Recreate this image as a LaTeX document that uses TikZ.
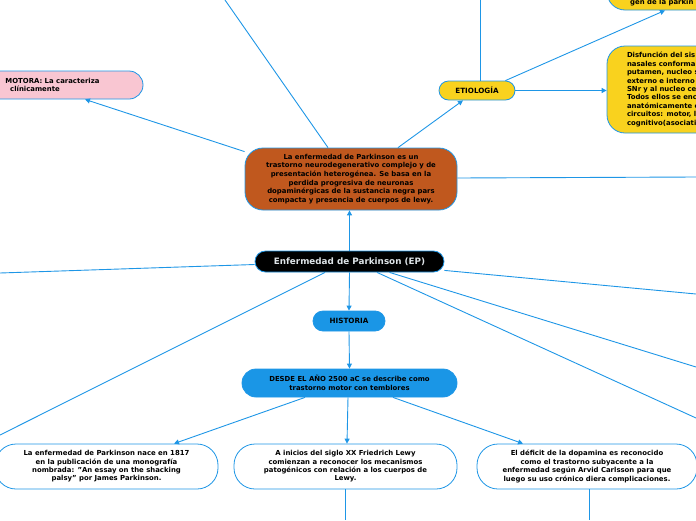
\documentclass[tikz,border=0pt]{standalone}
\usepackage{fontspec}
\setmainfont{DejaVu Sans}
\usetikzlibrary{arrows.meta}
\definecolor{lineblue}{RGB}{30,150,230}
\definecolor{orangefill}{RGB}{192,88,30}
\definecolor{yellowfill}{RGB}{249,210,30}
\definecolor{pinkfill}{RGB}{249,198,210}
\definecolor{bluefill}{RGB}{26,150,230}
\definecolor{eptext}{RGB}{222,228,232}
\begin{document}
\begin{tikzpicture}[x=1pt,y=-1pt,
  conn/.style={draw=lineblue, line width=0.9pt},
  arr/.style={conn, -{Triangle[length=5pt,width=5pt]}},
  box/.style={draw=lineblue, line width=0.8pt, inner sep=0pt, align=center,
    font=\bfseries\fontsize{6.9}{8.4}\selectfont},
  pill/.style={box, font=\bfseries\fontsize{7.2}{8.4}\selectfont}
]
\useasboundingbox (0,0) rectangle (696,520);

% nodes
\node[box, fill=orangefill, minimum width=212pt, minimum height=62pt, rounded corners=18pt,
  font=\bfseries\fontsize{6.9}{8.6}\selectfont] (orange) at (351,179)
  {La enfermedad de Parkinson es un\\ trastorno neurodegenerativo complejo y de\\ presentación heterogénea. Se basa en la\\ perdida progresiva de neuronas\\ dopaminérgicas de la sustancia negra pars\\ compacta y presencia de cuerpos de lewy.};

\node[box, fill=black, text=eptext, minimum width=189pt, minimum height=21pt, rounded corners=10.5pt,
  font=\bfseries\fontsize{8.8}{10}\selectfont] (ep) at (349.5,261.5) {Enfermedad de Parkinson (EP)};

\node[box, fill=pinkfill, minimum width=216pt, minimum height=28pt, rounded corners=14pt] (pink) at (35,85)
  {\hspace*{35pt}MOTORA: La caracteriza\\ clínicamente};

\node[pill, fill=yellowfill, minimum width=76pt, minimum height=19pt, rounded corners=9.5pt] (etio) at (477,90.5) {ETIOLOGÍA};

\node[box, fill=yellowfill, minimum width=186pt, minimum height=60pt, rounded corners=18pt] (topy) at (700,-20) {};
\node[anchor=base west, inner sep=0pt, font=\bfseries\fontsize{6.9}{8.4}\selectfont] (topytxt) at (630,4) {gen de la parkin};

\node[box, fill=yellowfill, minimum height=87pt, rounded corners=18pt, inner xsep=20pt, text width=160pt, align=left,
  font=\bfseries\fontsize{6.9}{8.4}\selectfont] (bigy) at (707,89.5)
  {Disfunción del sis\\ nasales conforma\\ putamen, nucleo s\\ externo e interno\\ SNr y al nucleo ce\\ Todos ellos se enc\\ anatómicamente e\\ circuitos: motor, l\\ cognitivo(asociati};

\node[pill, fill=bluefill, minimum width=72pt, minimum height=20pt, rounded corners=10pt] (historia) at (349,321) {HISTORIA};

\node[box, fill=bluefill, minimum width=215pt, minimum height=28pt, rounded corners=14pt] (desde) at (349.5,383)
  {DESDE EL AÑO 2500 aC se describe como\\ trastorno motor con temblores};

\node[box, fill=white, minimum width=223pt, minimum height=45pt, rounded corners=21pt] (b1) at (106.5,466.5)
  {La enfermedad de Parkinson nace en 1817\\ en la publicación de una monografía\\ nombrada: "An essay on the shacking\\ palsy" por James Parkinson.};

\node[box, fill=white, minimum width=223pt, minimum height=45pt, rounded corners=21pt] (b2) at (345.5,466.5)
  {A inicios del siglo XX Friedrich Lewy\\ comienzan a reconocer los mecanismos\\ patogénicos con relación a los cuerpos de\\ Lewy.};

\node[box, fill=white, minimum width=220pt, minimum height=45pt, rounded corners=21pt] (b3) at (587,466.5)
  {El déficit de la dopamina es reconocido\\ como el trastorno subyacente a la\\ enfermedad según Arvid Carlsson para que\\ luego su uso crónico diera complicaciones.};

% free ends
\coordinate (topend) at (225,0);
\coordinate (orangeright) at (696,177);
\coordinate (etioup) at (480,0);
\coordinate (epleft) at (0,273);
\coordinate (eplowleft) at (0,435);
\coordinate (epright) at (696,294);
\coordinate (epright2) at (696,367);
\coordinate (epright3) at (696,418);
\coordinate (b2down) at (345.5,520);
\coordinate (b3down) at (589,520);

% connectors
\draw[arr] (ep.north) -- (ep.north |- orange.south);
\draw[arr] (ep.south) -- (historia.north);
\draw[arr] (historia.south) -- (desde.north);
\draw[arr] ([xshift=-44.5pt]desde.south) -- ([xshift=67.5pt]b1.north);
\draw[arr] ([xshift=-1.5pt]desde.south) -- ([xshift=1.5pt]b2.north);
\draw[arr] ([xshift=43.5pt]desde.south) -- ([xshift=-64pt]b3.north);
\draw[conn] (b2.south) -- (b2down);
\draw[conn] ([xshift=2pt]b3.south) -- (b3down);

\draw[conn] ([yshift=-3pt]ep.west) -- (epleft);
\draw[conn] ([xshift=-24.5pt]ep.south) -- (eplowleft);
\draw[conn] ([yshift=2pt]ep.south east) -- (epright);
\draw[conn] ([xshift=40pt]ep.south) -- (epright2);
\draw[conn] ([xshift=27.5pt]ep.south) -- (epright3);

\draw[conn] ([xshift=-23pt]orange.north) -- (topend);
\draw[arr] ([yshift=-4pt]orange.north west) -- ([xshift=50pt]pink.south);
\draw[arr] ([xshift=47pt]orange.north) -- ([xshift=-14pt]etio.south);
\draw[conn] ([yshift=1pt]orange.east) -- (orangeright);

\draw[conn] ([xshift=3pt]etio.north) -- (etioup);
\draw[arr] ([xshift=-10pt]etio.north east) -- ([xshift=-35pt]topy.south);
\draw[arr] (etio.east) -- (etio.east -| bigy.west);
\end{tikzpicture}
\end{document}
